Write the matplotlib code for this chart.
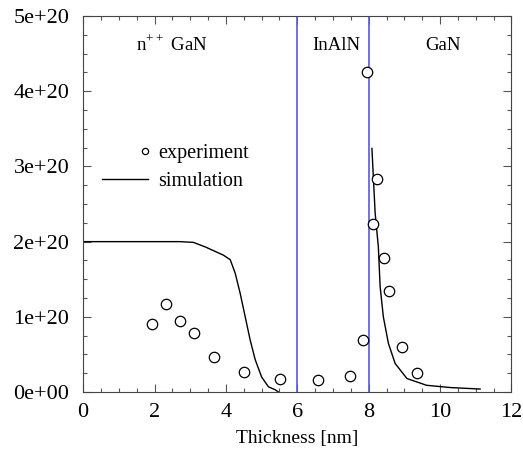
import numpy as np
import matplotlib

matplotlib.use("Agg")
import matplotlib.pyplot as plt
from matplotlib.legend_handler import HandlerLine2D
from matplotlib.ticker import MultipleLocator, FormatStrFormatter

plt.rcParams["font.family"] = ["Liberation Serif", "DejaVu Serif"]
plt.rcParams["mathtext.fontset"] = "custom"
plt.rcParams["mathtext.rm"] = "Liberation Serif"

# measured carrier density
exp_x = [1.92, 2.32, 2.72, 3.10, 3.66, 4.50, 5.52, 6.59, 7.48, 7.85,
         7.95, 8.13, 8.24, 8.44, 8.57, 8.93, 9.36]
exp_y = [0.90, 1.17, 0.95, 0.79, 0.47, 0.27, 0.17, 0.16, 0.22, 0.69,
         4.26, 2.24, 2.83, 1.78, 1.35, 0.60, 0.25]

# simulated profile (gap inside the barrier)
sim_x = [0.0, 1.0, 2.0, 2.72, 3.09, 3.42, 3.93, 4.12, 4.26, 4.40, 4.54,
         4.68, 4.82, 5.00, 5.19, 5.38, 5.47,
         np.nan,
         8.09, 8.18, 8.27, 8.32, 8.41, 8.55, 8.74, 9.07, 9.62, 10.28, 11.12]
sim_y = [2.0, 2.0, 2.0, 2.0, 1.99, 1.93, 1.82, 1.76, 1.58, 1.31, 1.00,
         0.69, 0.43, 0.20, 0.07, 0.03, 0.0,
         np.nan,
         3.24, 2.38, 1.93, 1.40, 1.00, 0.65, 0.38, 0.18, 0.09, 0.06, 0.04]

interfaces = [6, 8]
layer_names = ["n$^{++}$ GaN", "InAlN", "GaN"]
layer_x = [2.5, 7.1, 10.08]

scale = 1e20


class MarkerAtEnd(HandlerLine2D):
    """Legend sample with the symbol near the right end, gnuplot style.

    The handler marks the middle of a 3-point line, so stretch the span
    until its middle sits where the symbol should go (the line itself is
    invisible for a marker-only artist).
    """

    def get_xdata(self, legend, xdescent, ydescent, width, height, fontsize):
        x0 = -xdescent
        xm = x0 + 0.93 * width
        return [x0, 2 * xm - x0], [xm]


fig = plt.figure(figsize=(5.23, 4.58), dpi=100)
ax = fig.add_axes([0.159, 0.144, 0.819, 0.821])

for xi in interfaces:
    ax.axvline(xi, color="#5a5ad8", lw=1.2)

ax.plot(np.array(sim_x), np.array(sim_y) * scale, color="black", lw=1.0,
        label="simulation")
exp_line, = ax.plot(exp_x, np.array(exp_y) * scale, linestyle="none",
                    marker="o", markersize=7.5, markerfacecolor="white",
                    markeredgecolor="black", markeredgewidth=0.9,
                    label="experiment")

for name, xl in zip(layer_names, layer_x):
    ax.text(xl, 4.61 * scale, name, ha="center", va="center", fontsize=13.5)

ax.set_xlim(0, 12)
ax.set_ylim(0, 5 * scale)
ax.xaxis.set_major_locator(MultipleLocator(2))
ax.xaxis.set_minor_locator(MultipleLocator(0.5))
ax.yaxis.set_major_locator(MultipleLocator(1 * scale))
ax.yaxis.set_minor_locator(MultipleLocator(0.25 * scale))
ax.yaxis.set_major_formatter(FormatStrFormatter("%.0e"))
ax.tick_params(which="both", direction="in", top=True, right=True,
               labelsize=16, width=0.8, color="#555555")
ax.tick_params(axis="y", pad=10)
ax.tick_params(axis="x", pad=8)
ax.tick_params(which="major", length=6)
ax.tick_params(which="minor", length=3)
for sp in ax.spines.values():
    sp.set_linewidth(0.8)
    sp.set_color("#444444")

ax.set_xlabel("Thickness [nm]", fontsize=14, labelpad=6)

handles, labels = ax.get_legend_handles_labels()
ax.legend(handles[::-1], labels[::-1], loc="upper left",
          bbox_to_anchor=(0.044, 0.66), frameon=False, fontsize=14.5,
          numpoints=1, markerscale=0.6, handlelength=2.3, handletextpad=0.5,
          labelspacing=0.45, borderpad=0, borderaxespad=0,
          handler_map={exp_line: MarkerAtEnd()})

fig.savefig("out.png", dpi=100)
